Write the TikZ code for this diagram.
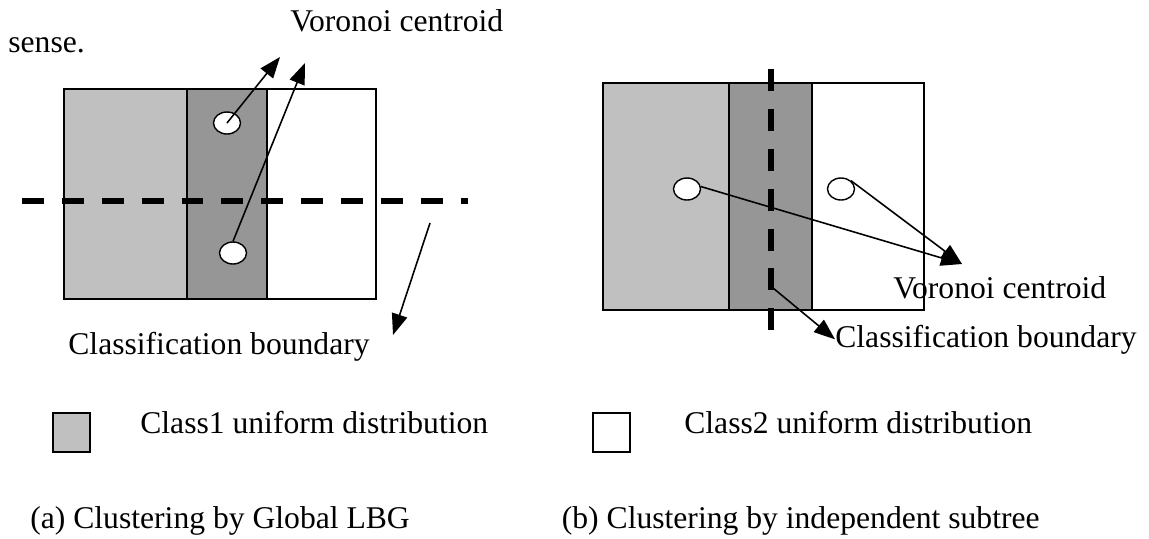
\documentclass[tikz,border=0pt]{standalone}
\usepackage{fontspec}
\setmainfont{Liberation Serif}
\usetikzlibrary{arrows.meta,shapes.geometric,positioning}
\definecolor{classone}{RGB}{192,192,192}
\definecolor{overlap}{RGB}{150,150,150}
\tikzset{
  region/.style={draw=black,line width=1pt},
  centroid/.style={ellipse,draw,fill=white,line width=0.8pt,minimum width=0.54cm,minimum height=0.44cm,inner sep=0pt},
  boundary/.style={line width=3.4pt,dash pattern=on 12.5pt off 10.2pt},
  ptr/.style={-{Triangle[length=12pt,width=9pt]},line width=0.9pt},
  lbl/.style={inner sep=0pt,anchor=base west,font=\fontsize{18}{22}\selectfont},
  legbox/.style={draw,line width=1pt,minimum width=0.74cm,minimum height=0.78cm,inner sep=0pt,anchor=north west}
}

\begin{document}
\begin{tikzpicture}[x=0.02cm,y=-0.02cm]
  \useasboundingbox (0,0) rectangle (1149,538);

  % (a) global LBG
  \fill[classone] (64,89) rectangle (187,299);
  \fill[overlap] (187,89) rectangle (267,299);
  \draw[region] (64,89) rectangle (376,299);
  \draw[region] (187,89) -- (187,299) (267,89) -- (267,299);
  \node[centroid] (ca1) at (227,123) {};
  \node[centroid] (ca2) at (233,253) {};
  \coordinate (bstartA) at (22,201);
  \coordinate (bendA) at (468,201);
  \draw[boundary] (bstartA) -- (bendA);

  \node[lbl] (sense) at (8,52) {sense.};
  \node[lbl] (vorA) at (290,31) {Voronoi centroid};
  \node[lbl,anchor=base east] (clsA) at (370,354) {Classification boundary};
  \coordinate (tipA1) at (280,57);
  \coordinate (tipA2) at (305,63);
  \coordinate (tipA3) at (393,335);
  \coordinate (fromA3) at (430,223);
  \draw[ptr] (ca1.center) -- (tipA1);
  \draw[ptr] (ca2.north) -- (tipA2);
  \draw[ptr] (fromA3) -- (tipA3);

  % (b) independent subtree
  \fill[classone] (603,83) rectangle (729,310);
  \fill[overlap] (729,83) rectangle (812,310);
  \draw[region] (603,83) rectangle (924,310);
  \draw[region] (729,83) -- (729,310) (812,83) -- (812,310);
  \coordinate (bstartB) at (771,69);
  \coordinate (bendB) at (771,333);
  \draw[boundary] (bstartB) -- (bendB);
  \node[centroid] (cb1) at (687,189) {};
  \node[centroid] (cb2) at (841,189) {};

  \node[lbl] (vorB) at (893,298) {Voronoi centroid};
  \node[lbl] (clsB) at (835,347) {Classification boundary};
  \coordinate (tipB) at (962,264);
  \coordinate (fromB3) at (773,288);
  \draw[ptr] (cb1.10) -- (tipB);
  \draw[ptr] (cb2.40) -- (tipB);
  \draw[ptr] (fromB3) -- (clsB.west);

  % legend
  \node[legbox,fill=classone] (keyone) at (52,412) {};
  \node[lbl] (keyonetxt) at (140,433) {Class1 uniform distribution};
  \node[legbox,fill=white] (keytwo) at (592,412) {};
  \node[lbl] (keytwotxt) at (684,433) {Class2 uniform distribution};

  % captions
  \node[lbl] (capA) at (30,528) {(a) Clustering by Global LBG};
  \node[lbl,anchor=base east] (capB) at (1040,528) {(b) Clustering by independent subtree};
\end{tikzpicture}
\end{document}
